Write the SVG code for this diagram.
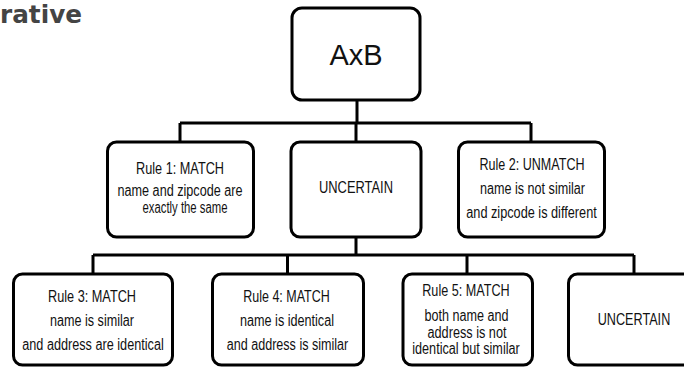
<svg xmlns="http://www.w3.org/2000/svg" width="684" height="367" viewBox="0 0 684 367">
<style>
.box{fill:#fff;stroke:#000;stroke-width:3}
.ln{fill:none;stroke:#000;stroke-width:3}
.t{font-family:"Liberation Sans",Arial,sans-serif;font-size:16px;fill:#111;text-anchor:middle}
.big{font-family:"Liberation Sans",Arial,sans-serif;font-size:29px;fill:#111;text-anchor:middle}
.hd{font-family:"DejaVu Sans",sans-serif;font-size:25px;font-weight:600;fill:#444}
</style>
<rect width="684" height="367" fill="#fff"/>
<text class="hd" x="0" y="23" textLength="82" lengthAdjust="spacingAndGlyphs">rative</text>
<g id="connectors">
<path class="ln" d="M357 100V123M180 123H531M180 123V142M356 123V142M531 123V142"/>
<path class="ln" d="M356 237V255M93 255H634M93 255V274M287.5 255V274M467 255V274M634 255V274"/>
</g>
<g id="axb">
<rect class="box" x="292" y="8" width="128" height="92" rx="10"/>
<text class="big" x="356" y="64.5">AxB</text>
</g>
<g id="rule1">
<rect class="box" x="107.5" y="142" width="146" height="95" rx="9"/>
<text class="t" x="180" y="174" textLength="88" lengthAdjust="spacingAndGlyphs">Rule 1: MATCH</text>
<text class="t" x="180" y="196" textLength="125" lengthAdjust="spacingAndGlyphs">name and zipcode are</text>
<text class="t" x="185" y="213" textLength="85" lengthAdjust="spacingAndGlyphs">exactly the same</text>
</g>
<g id="uncertain1">
<rect class="box" x="291" y="142" width="130" height="95" rx="9"/>
<text class="t" x="356" y="193" textLength="74" lengthAdjust="spacingAndGlyphs">UNCERTAIN</text>
</g>
<g id="rule2">
<rect class="box" x="458.5" y="142" width="146" height="95" rx="9"/>
<text class="t" x="532" y="169.5" textLength="105" lengthAdjust="spacingAndGlyphs">Rule 2: UNMATCH</text>
<text class="t" x="532.5" y="194" textLength="105" lengthAdjust="spacingAndGlyphs">name is not similar</text>
<text class="t" x="531.5" y="217.5" textLength="130.5" lengthAdjust="spacingAndGlyphs">and zipcode is different</text>
</g>
<g id="rule3">
<rect class="box" x="13.5" y="274" width="159" height="91" rx="9"/>
<text class="t" x="92" y="302" textLength="88" lengthAdjust="spacingAndGlyphs">Rule 3: MATCH</text>
<text class="t" x="92" y="326" textLength="84" lengthAdjust="spacingAndGlyphs">name is similar</text>
<text class="t" x="93" y="350" textLength="141.5" lengthAdjust="spacingAndGlyphs">and address are identical</text>
</g>
<g id="rule4">
<rect class="box" x="212.5" y="274" width="151" height="91" rx="9"/>
<text class="t" x="286.5" y="302" textLength="86.5" lengthAdjust="spacingAndGlyphs">Rule 4: MATCH</text>
<text class="t" x="287" y="326" textLength="94" lengthAdjust="spacingAndGlyphs">name is identical</text>
<text class="t" x="287.5" y="350" textLength="121.5" lengthAdjust="spacingAndGlyphs">and address is similar</text>
</g>
<g id="rule5">
<rect class="box" x="403" y="274" width="129.5" height="91" rx="9"/>
<text class="t" x="466" y="296" textLength="87.5" lengthAdjust="spacingAndGlyphs">Rule 5: MATCH</text>
<text class="t" x="466.5" y="320.5" textLength="84" lengthAdjust="spacingAndGlyphs">both name and</text>
<text class="t" x="467" y="337.5" textLength="79" lengthAdjust="spacingAndGlyphs">address is not</text>
<text class="t" x="466" y="353.5" textLength="107.5" lengthAdjust="spacingAndGlyphs">identical but similar</text>
</g>
<g id="uncertain2">
<rect class="box" x="568.5" y="274" width="135" height="91" rx="9"/>
<text class="t" x="634" y="325" textLength="72.5" lengthAdjust="spacingAndGlyphs">UNCERTAIN</text>
</g>
</svg>
